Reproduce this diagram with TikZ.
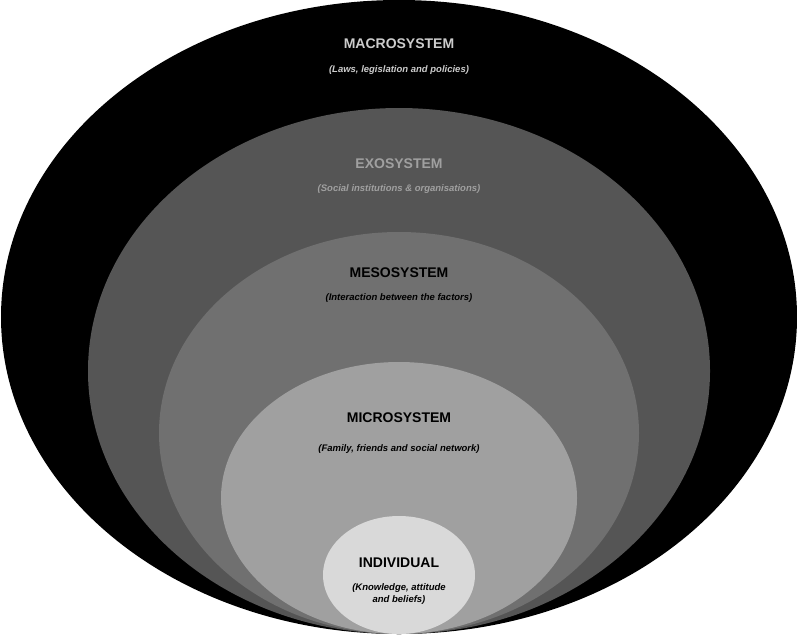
\documentclass[tikz,border=0pt]{standalone}
\usepackage{fontspec}
\setmainfont{Liberation Sans}
\definecolor{exo}{RGB}{85,85,85}
\definecolor{meso}{RGB}{112,112,112}
\definecolor{micro}{RGB}{160,160,160}
\definecolor{indiv}{RGB}{217,217,217}
\tikzset{
  title/.style={font=\fontsize{14}{16}\selectfont\bfseries},
  sub/.style={font=\fontsize{9.5}{12}\selectfont\bfseries\itshape, align=center}
}
\begin{document}
\begin{tikzpicture}[x=1pt,y=-1pt]
    \useasboundingbox (0,0) rectangle (797,635);
    % Nested systems
    \fill[black] (399,317) ellipse (398 and 317);
    \fill[exo] (399,371) ellipse (311 and 263);
    \fill[meso] (399,433) ellipse (240 and 201);
    \fill[micro] (399,498) ellipse (178 and 136);
    \fill[indiv] (399,575) ellipse (76 and 59);

    % Labels
    \node[title, text=black!20] (macro) at (399,44) {MACROSYSTEM};
    \node[sub, text=black!20] (macrosub) at (399,70) {(Laws, legislation and policies)};
    \node[title, text=micro] (exosys) at (399,164) {EXOSYSTEM};
    \node[sub, text=micro] (exosub) at (399,189) {(Social institutions \& organisations)};
    \node[title] (mesosys) at (399,273) {MESOSYSTEM};
    \node[sub] (mesosub) at (399,298) {(Interaction between the factors)};
    \node[title] (microsys) at (399,418) {MICROSYSTEM};
    \node[sub] (microsub) at (399,449) {(Family, friends and social network)};
    \node[title] (indivsys) at (399,563) {INDIVIDUAL};
    \node[sub] (indivsub) at (399,594) {(Knowledge, attitude\\and beliefs)};
\end{tikzpicture}
\end{document}
